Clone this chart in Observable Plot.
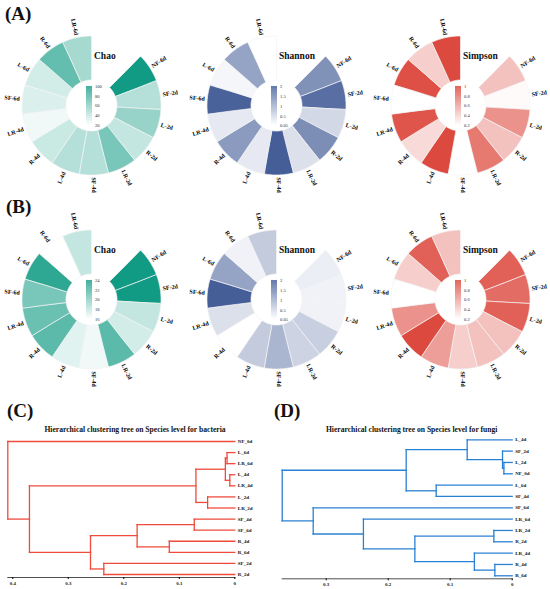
<!DOCTYPE html>
<html><head><meta charset="utf-8">
<script src="https://cdn.jsdelivr.net/npm/d3@7"></script>
<script src="https://cdn.jsdelivr.net/npm/@observablehq/plot@0.6"></script>
<style>
body{margin:0;background:#fff;}
#root{position:relative;width:550px;height:589px;overflow:hidden;font-family:"Liberation Serif","Times New Roman",serif;}
.abs{position:absolute;line-height:1;white-space:nowrap;font-weight:bold;color:#111;}
.panel{font-size:19px;}
.rtitle{font-size:9.5px;}
.dtitle{font-size:7.6px;transform:translateX(-50%);}
svg{overflow:visible;}
</style></head><body>
<div id="root"></div>
<script>
// ---------- data ----------
const groups = ["NF-6d","SF-2d","L-2d","R-2d","LR-2d","SF-4d","L-4d","R-4d","LR-4d","SF-6d","L-6d","R-6d","LR-6d"];

const chaoA     = [100, 45, 55, 40, 65, 45, 45, 38, 25, 32, 35, 72, 50];
const shannonA  = [1.3, 1.7, 0.5, 1.35, 0.4, 1.9, 0.3, 1.2, 0.3, 1.85, 0.15, 1.1, 0.05];
const simpsonA  = [0.45, 0.22, 0.65, 0.45, 0.75, 0.2, 0.95, 0.35, 0.9, 0.2, 0.92, 0.4, 0.95];

const chaoB     = [25, 24.8, 18, 17.5, 21.5, 16.5, 17, 21.5, 21, 20.5, 23, 16, 18];
const shannonB  = [0.25, 0.2, 0.2, 0.6, 0.55, 0.9, 0.65, 0.05, 0.4, 1.9, 1.1, 0.2, 0.65];
const simpsonB  = [0.85, 0.8, 0.85, 0.45, 0.45, 0.4, 0.6, 0.95, 0.65, 0.2, 0.4, 0.85, 0.45];

const chaoTicksA = [20, 40, 60, 80, 100];
const chaoTicksB = [16, 18, 20, 22, 24];
const shannonTicks = [0.05, 0.5, 1, 1.5, 2];
const simpsonTicks = [0.2, 0.4, 0.6, 0.8, 1];

const bactLeaves = ["NF_0d","L_6d","LR_6d","L_4d","LR_4d","L_2d","LR_2d","SF_4d","SF_6d","R_4d","R_6d","SF_2d","R_2d"];
// [child, child, height]; numbers refer to earlier merges
const bactMerges = [
  ["L_6d","LR_6d",0.014],
  ["L_4d","LR_4d",0.009],
  [0,1,0.017],
  ["L_2d","LR_2d",0.049],
  [2,3,0.070],
  ["SF_4d","SF_6d",0.073],
  ["R_4d","R_6d",0.118],
  [5,6,0.176],
  ["SF_2d","R_2d",0.236],
  [7,8,0.260],
  [4,9,0.370],
  ["NF_0d",10,0.409]
];
const fungiLeaves = ["L_4d","SF_2d","L_2d","NF_0d","L_6d","SF_4d","SF_6d","LR_6d","LR_2d","R_2d","LR_4d","R_4d","R_6d"];
const fungiMerges = [
  ["L_2d","NF_0d",0.0134],
  ["SF_2d",0,0.0156],
  ["L_4d",1,0.0726],
  ["L_6d","SF_4d",0.1226],
  [2,3,0.171],
  ["LR_2d","R_2d",0.0296],
  ["R_4d","R_6d",0.028],
  ["LR_4d",6,0.061],
  [5,7,0.157],
  ["LR_6d",8,0.240],
  ["SF_6d",9,0.321],
  [4,10,0.371]
];
const treeTicksC = [0.4, 0.3, 0.2, 0.1, 0];
const treeTicksD = [0.3, 0.2, 0.1, 0];

// ---------- layout helpers ----------
const rootEl = document.getElementById("root");
function place(node, left, topPx) {
  node.style.position = "absolute";
  node.style.left = left + "px";
  node.style.top = topPx + "px";
  rootEl.appendChild(node);
}
function label(text, cls, left, topPx) {
  const d = document.createElement("div");
  d.className = "abs " + cls;
  d.textContent = text;
  d.style.left = left + "px";
  d.style.top = topPx + "px";
  rootEl.appendChild(d);
}

const R_IN = 25.5, R_OUT = 69.5, R_LAB = 72, HALF = 95, START = 45;
const FONT = "Liberation Serif";

function ring(values, ticks, color, title, cx, cy) {
  const N = groups.length, span = (360 - START) / N;
  const lo = ticks[0], hi = ticks[ticks.length - 1];
  const rows = groups.map((g, i) => {
    const a0 = START + i * span, mid = a0 + span / 2;
    const pts = [];
    for (let k = 0; k <= 24; k++) pts.push([180 - (a0 + span * k / 24), 90 - R_OUT]);
    for (let k = 24; k >= 0; k--) pts.push([180 - (a0 + span * k / 24), 90 - R_IN]);
    pts.push(pts[0].slice());
    const feature = {type: "Feature", properties: {v: values[i], g}, geometry: {type: "Polygon", coordinates: [pts]}};
    if (d3.geoArea(feature) > 2 * Math.PI) pts.reverse();
    return {g, v: values[i], mid, feature};
  });
  const colorScale = {type: "linear", domain: [lo, hi], range: ["#ffffff", color], interpolate: "rgb", clamp: true};
  const chart = Plot.plot({
    width: 2 * HALF, height: 2 * HALF, margin: 0,
    style: {background: "transparent", fontFamily: FONT, overflow: "visible"},
    projection: {type: "azimuthal-equidistant", rotate: [0, -90],
      domain: d3.geoCircle().center([0, 90]).radius(HALF)()},
    color: colorScale,
    marks: [
      Plot.geo(rows.map(r => r.feature), {fill: d => d.properties.v, stroke: "#f4f4f4", strokeWidth: 0.7}),
      Plot.text(rows.filter(r => r.mid < 180), {x: r => 180 - r.mid, y: 90 - R_LAB, text: "g",
        rotate: r => r.mid - 90, textAnchor: "start", fontSize: 6, fontWeight: "bold", fill: "black"}),
      Plot.text(rows.filter(r => r.mid >= 180), {x: r => 180 - r.mid, y: 90 - R_LAB, text: "g",
        rotate: r => r.mid - 270, textAnchor: "end", fontSize: 6, fontWeight: "bold", fill: "black"})
    ]
  });
  place(chart, cx - HALF, cy - HALF);

  // vertical gradient legend in the hole
  const steps = d3.range(60).map(k => lo + (hi - lo) * k / 60);
  const st = (hi - lo) / 60;
  const leg = Plot.plot({
    width: 28, height: 45, marginLeft: 0, marginRight: 22, marginTop: 3, marginBottom: 3,
    style: {background: "transparent", fontFamily: FONT, overflow: "visible"},
    x: {domain: [0, 1], axis: null},
    y: {domain: [lo, hi]},
    color: colorScale,
    marks: [
      Plot.rect(steps, {x1: 0, x2: 1, y1: d => d, y2: d => d + st * 1.05, fill: d => d + st / 2}),
      Plot.axisY(ticks, {anchor: "right", tickSize: 0, tickPadding: 2.5, fontSize: 4.6, fill: "#333",
        tickFormat: d => String(d), label: null})
    ]
  });
  place(leg, cx - 5, cy - 22);
  label(title, "rtitle", cx + 3, cy - 53);
}

ring(chaoA, chaoTicksA, "#119b84", "Chao", 91, 105);
ring(shannonA, shannonTicks, "#3b5592", "Shannon", 276, 104.5);
ring(simpsonA, simpsonTicks, "#da3d31", "Simpson", 460, 104.5);
ring(chaoB, chaoTicksB, "#119b84", "Chao", 91, 298.5);
ring(shannonB, shannonTicks, "#3b5592", "Shannon", 276, 298.5);
ring(simpsonB, simpsonTicks, "#da3d31", "Simpson", 460, 298.5);

label("(A)", "panel", 5, 4);
label("(B)", "panel", 6, 197);
label("(C)", "panel", 7, 401);
label("(D)", "panel", 274, 401);

// ---------- dendrograms ----------
function dendro(leaves, merges, color, xmax, ticks, opts) {
  const yOf = new Map(leaves.map((l, i) => [l, i]));
  const nodes = [];
  const segs = [];
  const get = c => typeof c === "number" ? nodes[c] : {x: 0, y: yOf.get(c)};
  merges.forEach(([a, b, h]) => {
    const A = get(a), B = get(b);
    segs.push({x1: h, y1: A.y, x2: h, y2: B.y});
    segs.push({x1: h, y1: A.y, x2: A.x, y2: A.y});
    segs.push({x1: h, y1: B.y, x2: B.x, y2: B.y});
    nodes.push({x: h, y: (A.y + B.y) / 2});
  });
  return Plot.plot({
    width: 275, height: opts.height,
    marginLeft: opts.ml, marginRight: opts.mr, marginTop: 0, marginBottom: opts.mb,
    style: {background: "transparent", fontFamily: FONT, overflow: "visible"},
    x: {domain: [xmax, 0]},
    y: {domain: [0, leaves.length - 1], range: opts.yrange, axis: null},
    marks: [
      Plot.frame({anchor: "bottom", stroke: "#222", strokeWidth: 0.8}),
      Plot.axisX(ticks, {anchor: "bottom", tickSize: 2, tickPadding: 1.5, fontSize: 5, fontWeight: "bold",
        fill: "#222", tickFormat: d => String(d), label: null}),
      Plot.link(segs, {x1: "x1", y1: "y1", x2: "x2", y2: "y2", stroke: color, strokeWidth: 1.3, strokeLinecap: "square"}),
      Plot.text(leaves, {x: 0, y: l => yOf.get(l), text: d => d, dx: 3, textAnchor: "start",
        fontSize: 5, fontWeight: "bold", fill: "#111"})
    ]
  });
}

const treeTop = 433;
place(dendro(bactLeaves, bactMerges, "#ef4b3b", 0.409, treeTicksC,
  {height: 156, ml: 7.3, mr: 40.7, mb: 12, yrange: [441 - treeTop, 574 - treeTop]}), 0, treeTop);
place(dendro(fungiLeaves, fungiMerges, "#2a80d2", 0.371, treeTicksD,
  {height: 156, ml: 6.7, mr: 38.3, mb: 10.7, yrange: [439.3 - treeTop, 575.3 - treeTop]}), 275, treeTop);

label("Hierarchical clustering tree on Species level for bacteria", "dtitle", 135, 426);
label("Hierarchical clustering tree on Species level for fungi", "dtitle", 411.7, 426);
</script>
</body></html>
